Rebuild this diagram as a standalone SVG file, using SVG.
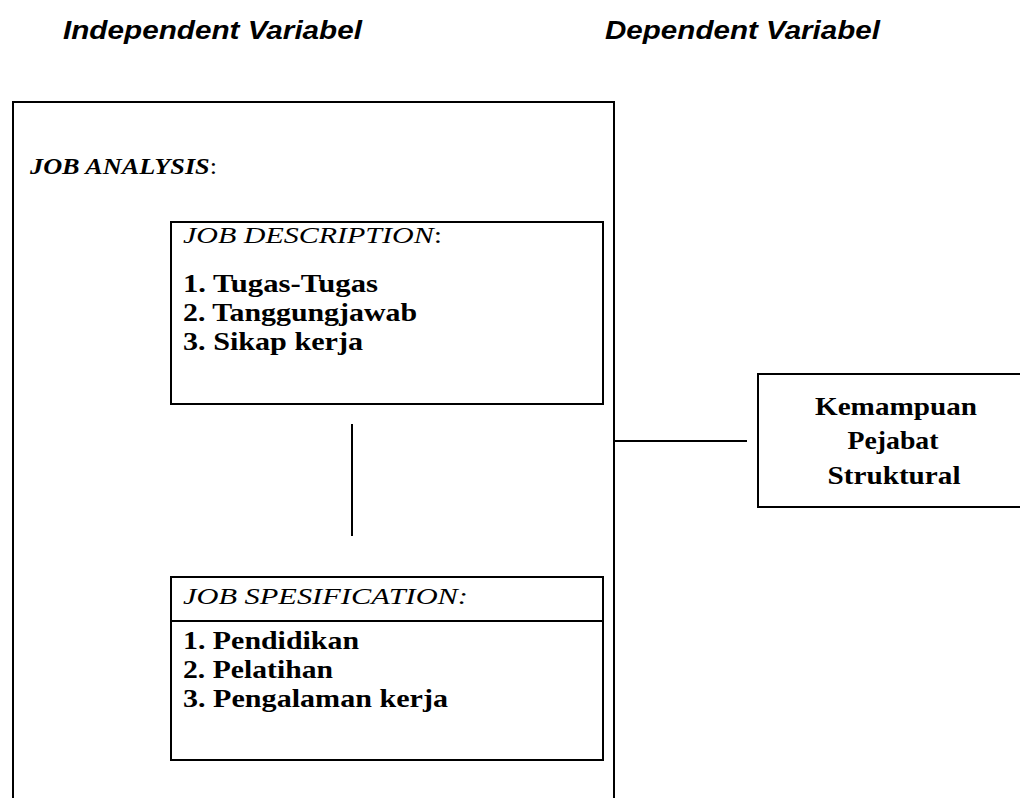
<svg xmlns="http://www.w3.org/2000/svg" width="1020" height="798" viewBox="0 0 1020 798">
<style>
.box{fill:#fff;stroke:#000;stroke-width:2}
.ln{stroke:#000;stroke-width:2;fill:none}
.hd{font-family:"Liberation Sans",Arial,sans-serif;font-weight:bold;font-style:italic;font-size:25px;fill:#000}
.tm{font-family:"Liberation Serif","Times New Roman",serif;font-size:24px;fill:#000}
.it{font-size:26px;font-weight:bold}
.b{font-weight:bold}
.i{font-style:italic}
</style>
<rect width="1020" height="798" fill="#fff"/>
<text class="hd" x="63" y="39" textLength="299" lengthAdjust="spacingAndGlyphs">Independent Variabel</text>
<text class="hd" x="605" y="39" textLength="275" lengthAdjust="spacingAndGlyphs">Dependent Variabel</text>
<g id="job-analysis">
<path class="ln" d="M13 800 V102 H614 V800"/>
<text class="tm b i" x="30" y="174" textLength="187" lengthAdjust="spacingAndGlyphs">JOB ANALYSIS<tspan font-weight="normal" font-style="normal">:</tspan></text>
</g>
<g id="job-description">
<rect class="box" x="171" y="222" width="432" height="182"/>
<text class="tm i" x="183" y="243" textLength="259" lengthAdjust="spacingAndGlyphs">JOB DESCRIPTION<tspan font-style="normal">:</tspan></text>
<text class="tm it" x="183" y="292" textLength="195" lengthAdjust="spacingAndGlyphs">1. Tugas-Tugas</text>
<text class="tm it" x="183" y="321" textLength="234" lengthAdjust="spacingAndGlyphs">2. Tanggungjawab</text>
<text class="tm it" x="183" y="350" textLength="180" lengthAdjust="spacingAndGlyphs">3. Sikap kerja</text>
</g>
<g id="job-spesification">
<rect class="box" x="171" y="577" width="432" height="183"/>
<line class="ln" x1="171" y1="621" x2="603" y2="621"/>
<text class="tm i" x="183" y="604" textLength="285" lengthAdjust="spacingAndGlyphs">JOB SPESIFICATION:</text>
<text class="tm it" x="183" y="649" textLength="176" lengthAdjust="spacingAndGlyphs">1. Pendidikan</text>
<text class="tm it" x="183" y="678" textLength="150" lengthAdjust="spacingAndGlyphs">2. Pelatihan</text>
<text class="tm it" x="183" y="707" textLength="265" lengthAdjust="spacingAndGlyphs">3. Pengalaman kerja</text>
</g>
<g id="kemampuan">
<rect class="box" x="758" y="374" width="272" height="133"/>
<text class="tm it" x="896" y="415" text-anchor="middle" textLength="162" lengthAdjust="spacingAndGlyphs">Kemampuan</text>
<text class="tm it" x="893" y="449" text-anchor="middle" textLength="91" lengthAdjust="spacingAndGlyphs">Pejabat</text>
<text class="tm it" x="894" y="484" text-anchor="middle" textLength="133" lengthAdjust="spacingAndGlyphs">Struktural</text>
</g>
<g id="connectors">
<line class="ln" x1="352" y1="424" x2="352" y2="536"/>
<line class="ln" x1="614" y1="441" x2="747" y2="441"/>
</g>
</svg>
